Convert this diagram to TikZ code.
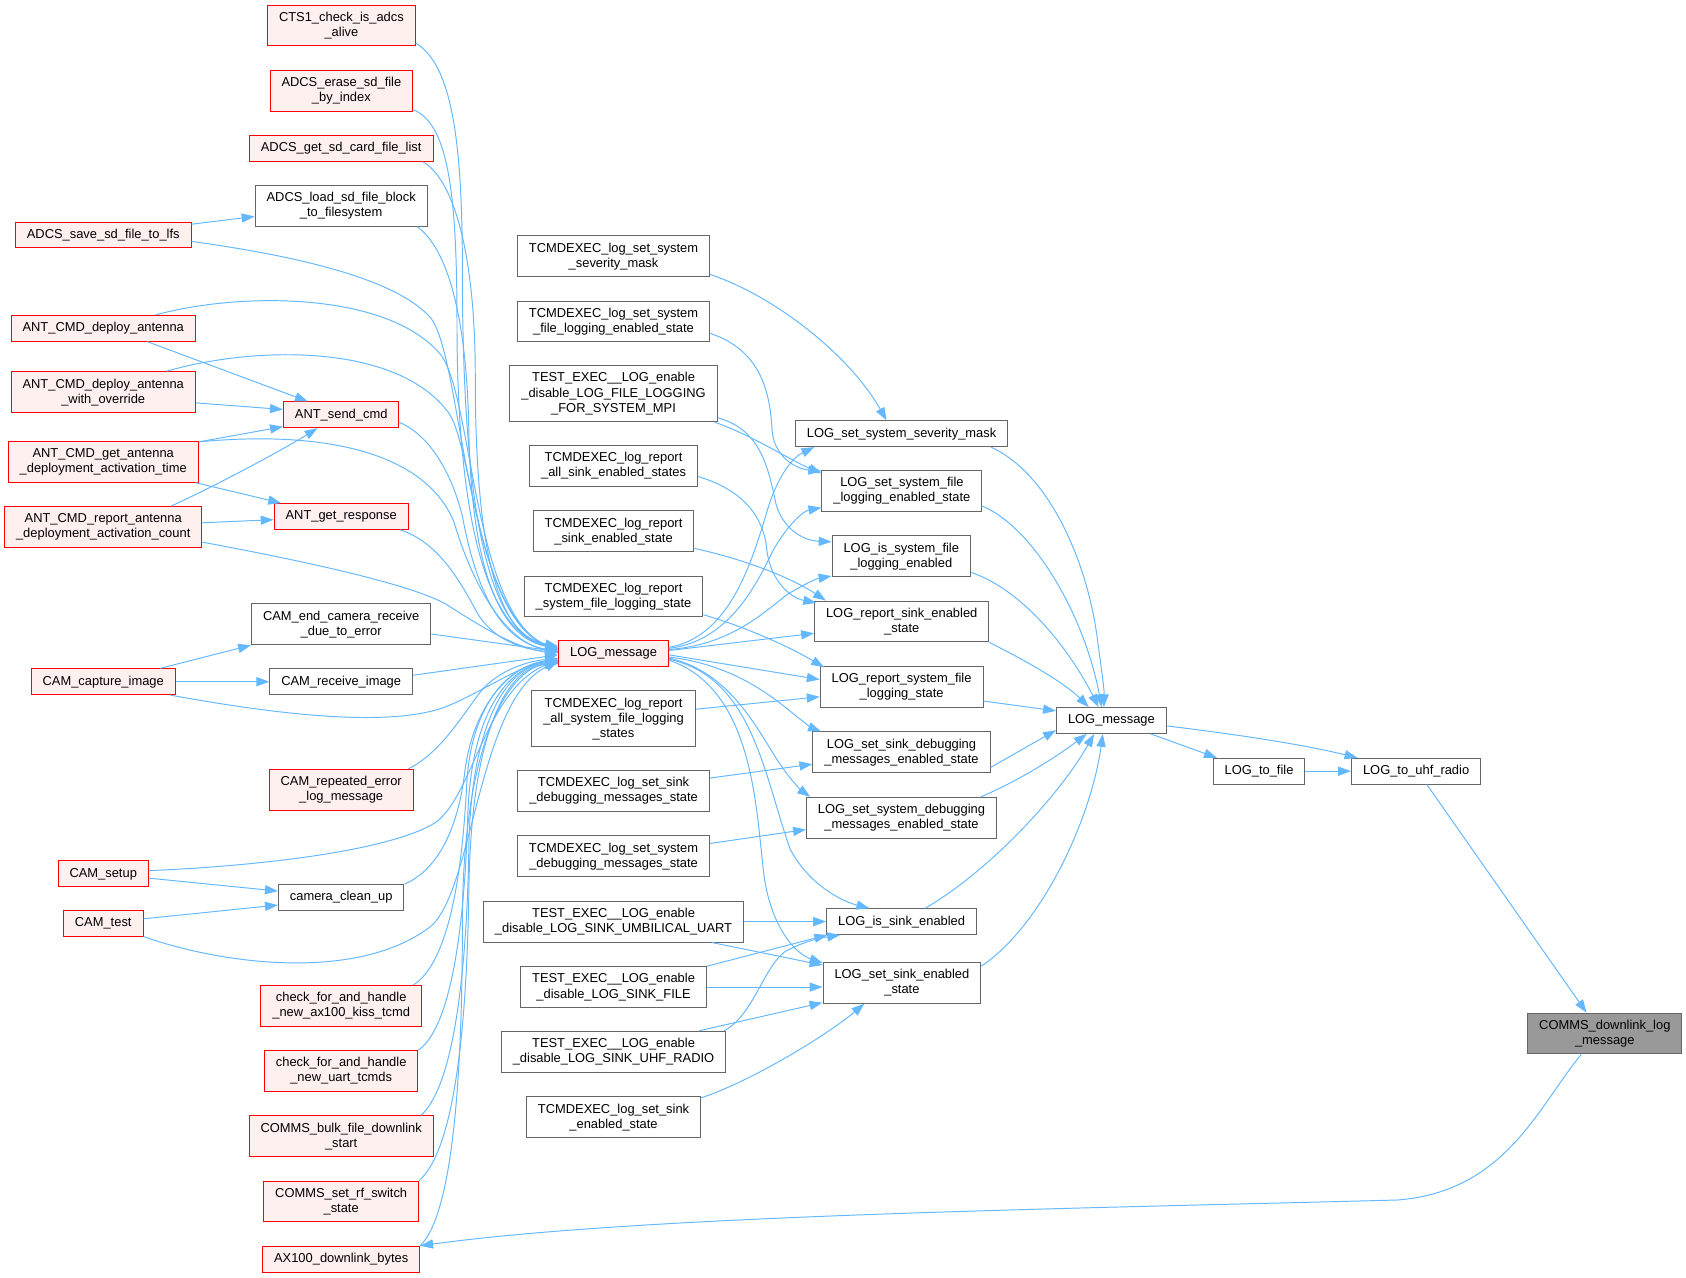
\documentclass[tikz,border=0pt]{standalone}
\usepackage{fontspec}
\setmainfont{Liberation Sans}
\usetikzlibrary{arrows.meta}
\definecolor{edgeblue}{HTML}{63B8FF}
\definecolor{nodered}{HTML}{FF0000}
\definecolor{nodepink}{HTML}{FFF0F0}
\definecolor{nodegray}{HTML}{666666}
\definecolor{rootgray}{HTML}{999999}

\begin{document}
\begin{tikzpicture}[x=1pt,y=-1pt,
  every node/.style={font=\fontsize{12}{14}\selectfont,align=center,inner xsep=10.7pt,inner ysep=2pt,minimum height=24pt,line width=0.9pt},
  wbox/.style={draw=nodegray,fill=white},
  rbox/.style={draw=nodered,fill=nodepink},
  gbox/.style={draw=nodegray,fill=rootgray},
  two/.style={minimum height=38pt},
  three/.style={minimum height=52pt},
  edge/.style={draw=edgeblue,line width=0.9pt,-{Triangle[length=12pt,width=8.5pt]}}]
\fill[white] (0,0) rectangle (1568,1188);
\useasboundingbox (0,0) rectangle (1568,1188);

%Columna izquierda
\node[rbox] (savelfs) at (96,218.5) {ADCS\_save\_sd\_file\_to\_lfs};
\node[rbox] (antdep) at (96,305.3) {ANT\_CMD\_deploy\_antenna};
\node[rbox,two] (antovr) at (96,364.7) {ANT\_CMD\_deploy\_antenna\\\_with\_override};
\node[rbox,two] (anttime) at (96,429.4) {ANT\_CMD\_get\_antenna\\\_deployment\_activation\_time};
\node[rbox,two] (antcount) at (96,490.2) {ANT\_CMD\_report\_antenna\\\_deployment\_activation\_count};
\node[rbox] (camcap) at (96,634) {CAM\_capture\_image};
\node[rbox] (camsetup) at (96,812.7) {CAM\_setup};
\node[rbox] (camtest) at (96,858.5) {CAM\_test};

%Segunda columna
\node[rbox,two] (ctsalive) at (317.5,23.7) {CTS1\_check\_is\_adcs\\\_alive};
\node[rbox,two] (erase) at (317.5,84.5) {ADCS\_erase\_sd\_file\\\_by\_index};
\node[rbox] (filelist) at (317.3,138) {ADCS\_get\_sd\_card\_file\_list};
\node[wbox,two] (loadblk) at (317.3,191.3) {ADCS\_load\_sd\_file\_block\\\_to\_filesystem};
\node[rbox] (sendcmd) at (317.3,385.8) {ANT\_send\_cmd};
\node[rbox] (getresp) at (317.3,480.3) {ANT\_get\_response};
\node[wbox,two] (camend) at (317.3,580.6) {CAM\_end\_camera\_receive\\\_due\_to\_error};
\node[wbox] (camrecv) at (317.3,634) {CAM\_receive\_image};
\node[rbox,two] (camrep) at (317.3,734.5) {CAM\_repeated\_error\\\_log\_message};
\node[wbox] (camclean) at (317.3,834.7) {camera\_clean\_up};
\node[rbox,two] (chkax) at (317.3,935.4) {check\_for\_and\_handle\\\_new\_ax100\_kiss\_tcmd};
\node[rbox,two] (chkuart) at (317.3,996) {check\_for\_and\_handle\\\_new\_uart\_tcmds};
\node[rbox,two] (bulk) at (317.3,1056.8) {COMMS\_bulk\_file\_downlink\\\_start};
\node[rbox,two] (rfsw) at (317.3,1117.4) {COMMS\_set\_rf\_switch\\\_state};
\node[rbox] (axbytes) at (317.3,1171) {AX100\_downlink\_bytes};

%Tercera columna
\node[wbox,two] (tsev) at (570.6,238.3) {TCMDEXEC\_log\_set\_system\\\_severity\_mask};
\node[wbox,two] (tsysfile) at (570.6,299) {TCMDEXEC\_log\_set\_system\\\_file\_logging\_enabled\_state};
\node[wbox,three] (tmpi) at (570.6,366.1) {TEST\_EXEC\_\_LOG\_enable\\\_disable\_LOG\_FILE\_LOGGING\\\_FOR\_SYSTEM\_MPI};
\node[wbox,two] (tallsink) at (570.6,433.2) {TCMDEXEC\_log\_report\\\_all\_sink\_enabled\_states};
\node[wbox,two] (tsink) at (570.6,494) {TCMDEXEC\_log\_report\\\_sink\_enabled\_state};
\node[wbox,two] (trepsys) at (570.6,554.7) {TCMDEXEC\_log\_report\\\_system\_file\_logging\_state};
\node[rbox] (lmsg) at (570.6,608) {LOG\_message};
\node[wbox,three] (tallsys) at (570.6,668.6) {TCMDEXEC\_log\_report\\\_all\_system\_file\_logging\\\_states};
\node[wbox,two] (tsinkdbg) at (570.6,735.6) {TCMDEXEC\_log\_set\_sink\\\_debugging\_messages\_state};
\node[wbox,two] (tsysdbg) at (570.6,796.4) {TCMDEXEC\_log\_set\_system\\\_debugging\_messages\_state};
\node[wbox,two] (tuart) at (570.6,857.1) {TEST\_EXEC\_\_LOG\_enable\\\_disable\_LOG\_SINK\_UMBILICAL\_UART};
\node[wbox,two] (tfile) at (570.6,918) {TEST\_EXEC\_\_LOG\_enable\\\_disable\_LOG\_SINK\_FILE};
\node[wbox,two] (tuhf) at (570.6,978) {TEST\_EXEC\_\_LOG\_enable\\\_disable\_LOG\_SINK\_UHF\_RADIO};
\node[wbox,two] (tsetsink) at (570.6,1039) {TCMDEXEC\_log\_set\_sink\\\_enabled\_state};

%Cuarta columna
\node[wbox] (lsev) at (838.5,403.4) {LOG\_set\_system\_severity\_mask};
\node[wbox,two] (lsysfile) at (838.8,456.7) {LOG\_set\_system\_file\\\_logging\_enabled\_state};
\node[wbox,two] (lissys) at (838.2,517.3) {LOG\_is\_system\_file\\\_logging\_enabled};
\node[wbox,two] (lrepsink) at (838.6,578) {LOG\_report\_sink\_enabled\\\_state};
\node[wbox,two] (lrepsys) at (838.5,639) {LOG\_report\_system\_file\\\_logging\_state};
\node[wbox,two] (lsinkdbg) at (838.4,699.7) {LOG\_set\_sink\_debugging\\\_messages\_enabled\_state};
\node[wbox,two] (lsysdbg) at (838.4,760.5) {LOG\_set\_system\_debugging\\\_messages\_enabled\_state};
\node[wbox] (lissink) at (838.5,857.1) {LOG\_is\_sink\_enabled};
\node[wbox,two] (lsetsink) at (838.8,914) {LOG\_set\_sink\_enabled\\\_state};

%Derecha
\node[wbox] (wlm) at (1033.6,670.1) {LOG\_message};
\node[wbox] (tofile) at (1170.9,717.2) {LOG\_to\_file};
\node[wbox] (touhf) at (1317,717.2) {LOG\_to\_uhf\_radio};
\node[gbox,two] (root) at (1492.5,961.2) {COMMS\_downlink\_log\\\_message};

%Llamadas a LOG_message
\draw[edge] ([yshift=3pt]ctsalive.south east) .. controls (420,60) and (430,130) .. (430,250) .. controls (430,480) and (455,590) .. ([yshift=7pt]lmsg.west);
\draw[edge] ([yshift=2pt]erase.south east) .. controls (415,115) and (425,170) .. (425,300) .. controls (425,490) and (455,590) .. ([yshift=6pt]lmsg.west);
\draw[edge] ([xshift=-10pt]filelist.south east) .. controls (420,165) and (442,230) .. (442,350) .. controls (442,500) and (460,592) .. ([yshift=5pt]lmsg.west);
\draw[edge] ([xshift=-10pt]loadblk.south east) .. controls (415,230) and (434,290) .. (436,400) .. controls (438,510) and (458,592) .. ([yshift=5pt]lmsg.west);
\draw[edge] ([yshift=-6pt]savelfs.east) .. controls (290,240) and (370,262) .. (400,295) .. controls (430,330) and (432,570) .. ([yshift=4pt]lmsg.west);
\draw[edge] ([xshift=49pt]antdep.north) .. controls (220,272) and (360,270) .. (410,330) .. controls (440,370) and (440,572) .. ([yshift=3pt]lmsg.west);
\draw[edge] ([xshift=59pt]antovr.north) .. controls (235,322) and (370,318) .. (418,385) .. controls (440,420) and (445,575) .. ([yshift=3pt]lmsg.west);
\draw[edge] ([yshift=-7pt]sendcmd.east) .. controls (400,405) and (420,440) .. (430,480) .. controls (445,560) and (470,597) .. ([yshift=2pt]lmsg.west);
\draw[edge] ([yshift=-1pt]anttime.north east) .. controls (300,400) and (395,420) .. (422,485) .. controls (440,545) and (470,598) .. ([yshift=2pt]lmsg.west);
\draw[edge] ([xshift=-8pt]getresp.south east) .. controls (410,505) and (430,545) .. (445,572) .. controls (462,598) and (490,604) .. ([yshift=1pt]lmsg.west);
\draw[edge] ([yshift=-14pt]antcount.east) .. controls (300,525) and (385,545) .. (415,562) .. controls (440,578) and (480,604) .. ([yshift=1pt]lmsg.west);
\draw[edge] ([yshift=-9pt]camend.east) -- ([yshift=2pt]lmsg.west);
\draw[edge] ([yshift=6pt]camrecv.east) -- ([yshift=-1pt]lmsg.west);
\draw[edge] ([xshift=-5pt]camcap.south east) .. controls (260,665) and (370,678) .. (420,655) .. controls (450,642) and (482,620) .. ([yshift=-4pt]lmsg.west);
\draw[edge] ([xshift=-5pt]camrep.north east) .. controls (410,700) and (430,665) .. (448,642) .. controls (465,622) and (495,614) .. ([yshift=-5pt]lmsg.west);
\draw[edge] ([yshift=3pt]camsetup.east) .. controls (250,805) and (365,790) .. (405,765) .. controls (440,740) and (452,640) .. ([yshift=-6pt]lmsg.west);
\draw[edge] (camclean.north east) .. controls (405,810) and (425,775) .. (432,720) .. controls (440,650) and (480,617) .. ([yshift=-6pt]lmsg.west);
\draw[edge] (camtest.south east) .. controls (200,895) and (330,915) .. (400,862) .. controls (440,830) and (445,650) .. ([yshift=-7pt]lmsg.west);
\draw[edge] ([xshift=-8pt]chkax.north east) .. controls (418,895) and (430,810) .. (434,730) .. controls (438,650) and (478,617) .. ([yshift=-7pt]lmsg.west);
\draw[edge] (chkuart.north east) .. controls (420,955) and (432,860) .. (435,760) .. controls (438,655) and (478,618) .. ([yshift=-8pt]lmsg.west);
\draw[edge] ([xshift=-12pt]bulk.north east) .. controls (422,1010) and (434,905) .. (436,790) .. controls (438,660) and (478,618) .. ([yshift=-8pt]lmsg.west);
\draw[edge] (rfsw.north east) .. controls (422,1070) and (434,960) .. (436,830) .. controls (438,665) and (478,619) .. ([yshift=-9pt]lmsg.west);
\draw[edge] (axbytes.north east) .. controls (420,1130) and (430,1010) .. (430,860) .. controls (430,680) and (478,620) .. ([yshift=-9pt]lmsg.west);

%LOG_message hacia cuarta columna
\draw[edge] ([yshift=6pt]lmsg.east) .. controls (680,592) and (700,520) .. (715,470) .. controls (725,440) and (738,425) .. ([xshift=18pt]lsev.south west);
\draw[edge] ([yshift=5pt]lmsg.east) .. controls (680,596) and (705,540) .. (720,510) .. controls (735,485) and (748,475) .. ([yshift=4pt]lsysfile.south west);
\draw[edge] ([yshift=4pt]lmsg.east) .. controls (680,600) and (712,568) .. (732,553) .. controls (748,543) and (760,538) .. ([yshift=1pt]lissys.south west);
\draw[edge] ([yshift=3pt]lmsg.east) -- ([yshift=-11pt]lrepsink.west);
\draw[edge] ([yshift=-1pt]lmsg.east) -- ([yshift=7pt]lrepsys.west);
\draw[edge] ([yshift=-3pt]lmsg.east) .. controls (680,618) and (715,645) .. (738,664) .. controls (748,672) and (755,677) .. ([xshift=8pt]lsinkdbg.north west);
\draw[edge] ([yshift=-4pt]lmsg.east) .. controls (680,625) and (705,680) .. (725,710) .. controls (735,725) and (745,735) .. ([xshift=4pt]lsysdbg.north west);
\draw[edge] ([yshift=-5pt]lmsg.east) .. controls (700,630) and (710,720) .. (735,790) .. controls (752,822) and (782,838) .. ([xshift=-30pt]lissink.north);
\draw[edge] ([yshift=-6pt]lmsg.east) .. controls (700,640) and (703,750) .. (710,810) .. controls (716,862) and (740,887) .. ([yshift=-1pt]lsetsink.north west);

%Tercera columna hacia cuarta
\draw[edge] ([yshift=-17pt]tsev.east) .. controls (720,275) and (790,330) .. ([xshift=-14pt]lsev.north);
\draw[edge] ([yshift=-11pt]tsysfile.east) .. controls (705,325) and (716,360) .. (718,400) .. controls (720,425) and (740,436) .. ([yshift=-1pt]lsysfile.north west);
\draw[edge] ([xshift=-3pt]tmpi.south east) .. controls (700,405) and (735,428) .. ([yshift=-3pt]lsysfile.north west);
\draw[edge] ([yshift=4pt]tmpi.south east) .. controls (710,400) and (715,440) .. (722,470) .. controls (730,495) and (750,503) .. ([yshift=-6pt]lissys.north west);
\draw[edge] ([yshift=-10pt]tallsink.east) .. controls (690,455) and (710,480) .. (713,510) .. controls (716,540) and (735,556) .. ([xshift=2pt,yshift=-2pt]lrepsink.north west);
\draw[edge] ([yshift=-16pt]tsink.east) .. controls (700,522) and (740,540) .. ([xshift=11pt]lrepsink.north west);
\draw[edge] ([yshift=-17pt]trepsys.east) .. controls (700,585) and (740,605) .. ([xshift=4pt,yshift=-1pt]lrepsys.north west);
\draw[edge] ([yshift=9pt]tallsys.east) -- ([yshift=-9pt]lrepsys.west);
\draw[edge] ([yshift=12pt]tsinkdbg.east) -- ([yshift=-11pt]lsinkdbg.west);
\draw[edge] ([yshift=12pt]tsysdbg.east) -- ([yshift=-11pt]lsysdbg.west);
\draw[edge] (tuart.east) -- (lissink.west);
\draw[edge] ([xshift=-30pt]tuart.south east) -- ([yshift=-3pt]lsetsink.north west);
\draw[edge] (tfile.north east) -- ([xshift=1pt]lissink.south west);
\draw[edge] (tfile.east) -- ([yshift=-4pt]lsetsink.west);
\draw[edge] ([xshift=-2pt]tuhf.north east) .. controls (700,945) and (710,900) .. (730,885) .. controls (748,875) and (765,872) .. ([xshift=13pt]lissink.south west);
\draw[edge] ([xshift=-25pt]tuhf.north east) -- ([yshift=1pt]lsetsink.south west);
\draw[edge] ([yshift=18pt]tsetsink.east) .. controls (700,1005) and (770,962) .. ([xshift=-35pt]lsetsink.south);

%Cuarta columna hacia LOG_message
\draw[edge] ([xshift=-16pt]lsev.south east) .. controls (975,440) and (1010,520) .. (1020,590) .. controls (1024,620) and (1027,640) .. ([xshift=-7pt]wlm.north);
\draw[edge] ([yshift=-14pt]lsysfile.east) .. controls (960,490) and (1008,570) .. ([xshift=-9pt]wlm.north);
\draw[edge] ([yshift=-15pt]lissys.east) .. controls (955,550) and (998,610) .. ([xshift=-12pt]wlm.north);
\draw[edge] (lrepsink.south east) .. controls (955,615) and (990,635) .. ([xshift=-21pt]wlm.north);
\draw[edge] ([yshift=-13pt]lrepsys.east) -- ([yshift=9pt]wlm.west);
\draw[edge] ([yshift=-14pt]lsinkdbg.east) -- ([yshift=-9pt]wlm.west);
\draw[edge] ([xshift=-15pt]lsysdbg.north east) .. controls (950,725) and (985,702) .. ([xshift=-23pt]wlm.south);
\draw[edge] ([xshift=22pt]lissink.north) .. controls (920,810) and (985,740) .. ([xshift=-16pt]wlm.south);
\draw[edge] ([yshift=-4pt]lsetsink.north east) .. controls (970,860) and (1015,760) .. ([xshift=-8pt]wlm.south);

%Derecha
\draw[edge] ([xshift=-15pt]wlm.south east) -- ([xshift=4pt]tofile.north west);
\draw[edge] ([yshift=-5pt]wlm.east) .. controls (1150,683) and (1210,692) .. ([xshift=6pt]touhf.north west);
\draw[edge] (tofile.east) -- (touhf.west);
\draw[edge] ([xshift=10pt]touhf.south) -- ([xshift=-17pt]root.north);
\draw[edge] ([xshift=-22pt]root.south) .. controls (1430,1030) and (1400,1108) .. (1300,1116) .. controls (1000,1124) and (600,1130) .. (axbytes.north east);

%Columna izquierda hacia segunda
\draw[edge] ([yshift=10pt]savelfs.east) -- ([yshift=-10pt]loadblk.west);
\draw[edge] ([xshift=41pt]antdep.south) -- ([xshift=-31pt]sendcmd.north);
\draw[edge] ([yshift=-10pt]antovr.east) -- ([yshift=5pt]sendcmd.west);
\draw[edge] ([yshift=-1pt]anttime.north east) -- ([yshift=-11pt]sendcmd.west);
\draw[edge] ([xshift=-3pt]anttime.south east) -- ([xshift=7pt]getresp.north west);
\draw[edge] ([xshift=63pt]antcount.north) .. controls (200,452) and (260,420) .. ([xshift=-22pt]sendcmd.south);
\draw[edge] ([yshift=4pt]antcount.east) -- ([yshift=-3pt]getresp.west);
\draw[edge] ([xshift=53pt]camcap.north) -- (camend.south west);
\draw[edge] (camcap.east) -- (camrecv.west);
\draw[edge] ([yshift=-4pt]camsetup.east) -- ([yshift=6pt]camclean.west);
\draw[edge] ([yshift=4pt]camtest.east) -- ([yshift=-7pt]camclean.west);
\end{tikzpicture}
\end{document}
